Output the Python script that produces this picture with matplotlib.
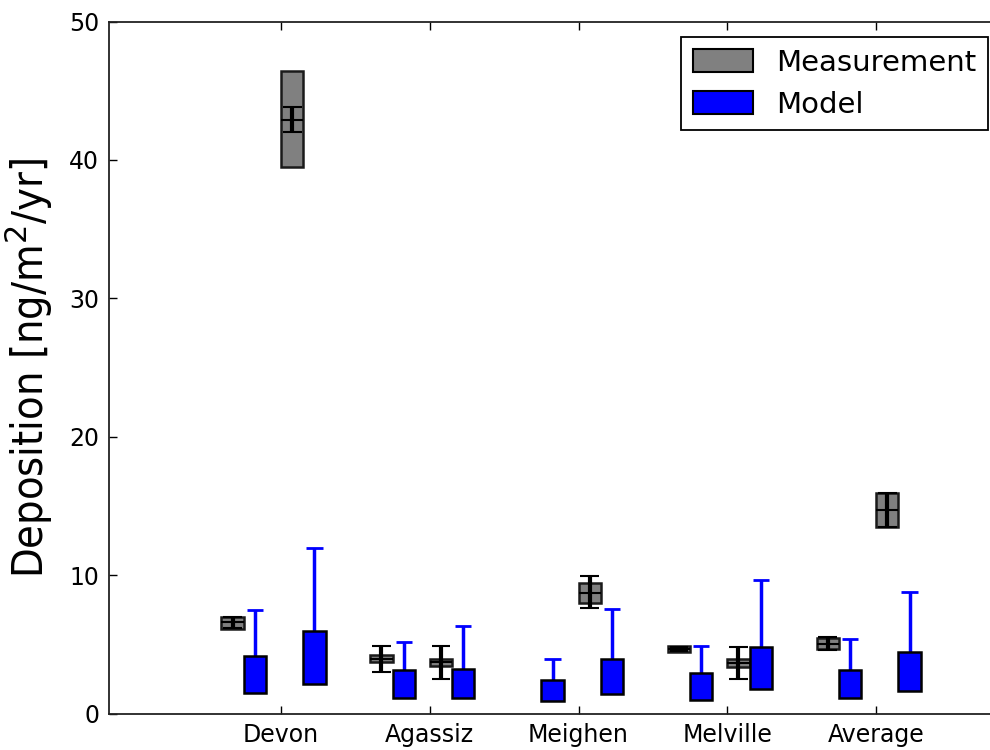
import numpy as np
import matplotlib
matplotlib.use("Agg")
import matplotlib.pyplot as plt
from matplotlib.patches import Patch

sites = ['Devon', 'Agassiz', 'Meighen', 'Melville', 'Average']

# Measurement set A (left of each site)
meas1_low = [6.1, 3.7, np.nan, 4.45, 4.65]
meas1_high = [7.0, 4.2, np.nan, 4.85, 5.45]
meas1_mid = [6.6, 3.95, np.nan, 4.65, 5.05]
meas1_err_lo = [6.2, 3.0, np.nan, 4.5, 4.6]
meas1_err_hi = [6.95, 4.85, np.nan, 4.8, 5.5]

# Measurement set B (right of each site)
meas2_low = [39.5, 3.4, 8.0, 3.35, 13.5]
meas2_high = [46.4, 3.95, 9.45, 3.95, 15.9]
meas2_mid = [42.9, 3.7, 8.7, 3.65, 14.7]
meas2_err_lo = [42.0, 2.5, 7.6, 2.5, 13.5]
meas2_err_hi = [43.8, 4.85, 9.9, 4.8, 15.9]

# Model set A
model1_low = [1.5, 1.13, 0.9, 1.0, 1.13]
model1_high = [4.18, 3.17, 2.4, 2.93, 3.12]
model1_whisk = [7.47, 5.19, 3.94, 4.9, 5.38]

# Model set B
model2_low = [2.16, 1.13, 1.44, 1.78, 1.66]
model2_high = [5.93, 3.24, 3.96, 4.8, 4.44]
model2_whisk = [11.94, 6.34, 7.56, 9.65, 8.81]

yticks = [0, 10, 20, 30, 40, 50]

W, H = 990, 750
fig = plt.figure(figsize=(W / 100, H / 100), dpi=100)
ax = fig.add_axes([109 / W, (H - 713.5) / H, 901 / W, 692 / H])

x = np.arange(len(sites))
bw = 0.15
off_m1, off_o1, off_m2, off_o2 = -0.325, -0.175, 0.075, 0.225
cap = 0.055


def draw_meas(pos, lo, hi, mid, elo, ehi):
    lo, hi, mid, elo, ehi = map(np.asarray, (lo, hi, mid, elo, ehi))
    ax.bar(pos, hi - lo, bottom=lo, width=bw, color='gray', edgecolor='#1a1a1a',
           linewidth=1.8, zorder=2)
    ax.hlines(mid, pos - bw / 2, pos + bw / 2, color='black', linewidth=1.5, zorder=3)
    ax.vlines(pos, elo, ehi, color='black', linewidth=3, zorder=4)
    ax.hlines(elo, pos - cap * 1.15, pos + cap * 1.15, color='black', linewidth=1.5, zorder=4)
    ax.hlines(ehi, pos - cap * 1.15, pos + cap * 1.15, color='black', linewidth=1.5, zorder=4)


def draw_model(pos, lo, hi, wh):
    lo, hi, wh = map(np.asarray, (lo, hi, wh))
    ax.vlines(pos, hi, wh, color='blue', linewidth=2.5, zorder=1)
    ax.hlines(wh, pos - cap, pos + cap, color='blue', linewidth=2, zorder=1)
    ax.bar(pos, hi - lo, bottom=lo, width=bw, color='blue', edgecolor='black',
           linewidth=1.8, zorder=2)


draw_meas(x + off_m1, meas1_low, meas1_high, meas1_mid, meas1_err_lo, meas1_err_hi)
draw_model(x + off_o1, model1_low, model1_high, model1_whisk)
draw_meas(x + off_m2, meas2_low, meas2_high, meas2_mid, meas2_err_lo, meas2_err_hi)
draw_model(x + off_o2, model2_low, model2_high, model2_whisk)

ax.set_xlim(-1.156, 4.9)
ax.set_ylim(0, 50)
ax.set_xticks(x)
ax.set_xticklabels(sites)
ax.set_yticks(yticks)
ax.tick_params(axis='both', direction='in', length=6, width=1, top=True, right=True,
               labelsize=17, colors='black')
ax.tick_params(axis='x', pad=7)
ax.tick_params(axis='y', pad=7)
ax.spines['right'].set_visible(False)
for s in ax.spines.values():
    s.set_linewidth(1.3)
    s.set_color('#222222')

ax.set_ylabel('Deposition [ng/m$^2$/yr]', fontsize=31, fontstretch='condensed',
              labelpad=10)

handles = [Patch(facecolor='gray', edgecolor='black', linewidth=1.5, label='Measurement'),
           Patch(facecolor='blue', edgecolor='black', linewidth=1.5, label='Model')]
leg = ax.legend(handles=handles, loc='upper right', bbox_to_anchor=(988 / W, 1 - 37 / H),
                bbox_transform=fig.transFigure, borderaxespad=0, fontsize=21,
                fancybox=False, framealpha=1, edgecolor='black', handlelength=2.05,
                handleheight=0.8, handletextpad=0.8, labelspacing=0.48, borderpad=0.4)
leg.get_frame().set_linewidth(1.3)

fig.savefig('out.png', dpi=100)
